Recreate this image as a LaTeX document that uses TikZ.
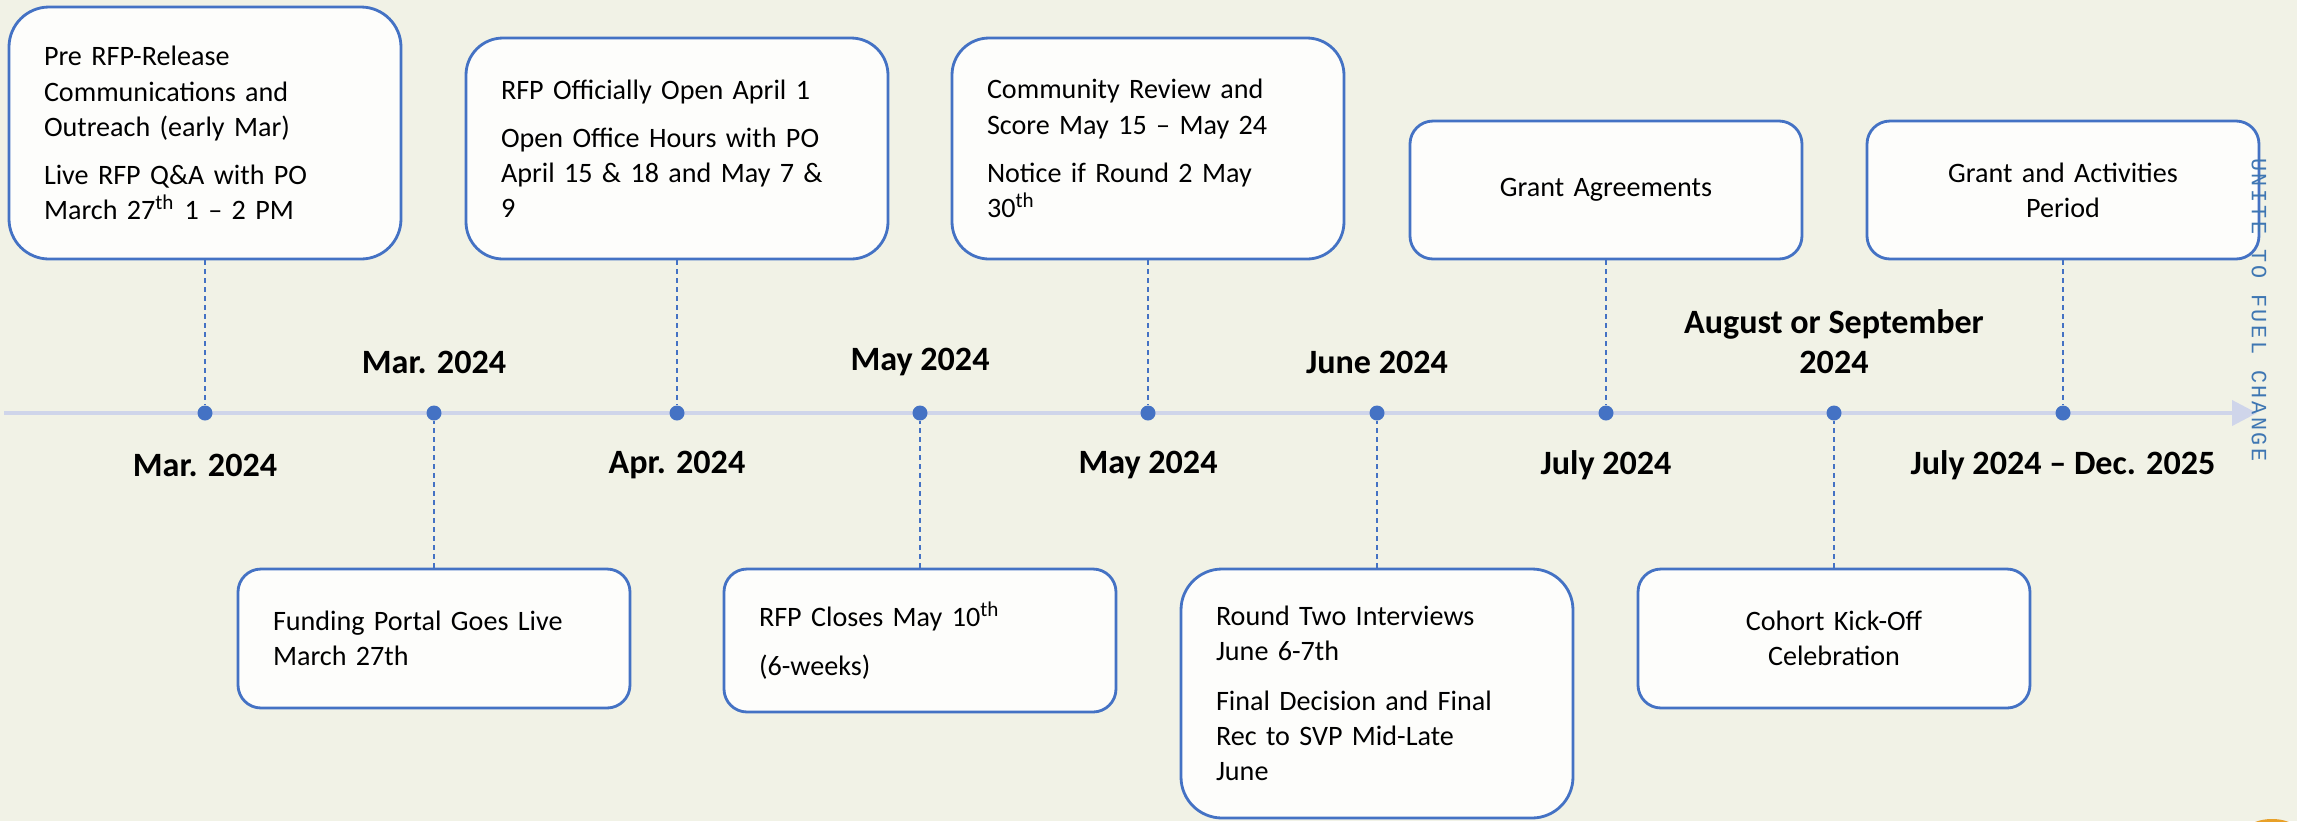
\documentclass[tikz,border=0pt]{standalone}
\usepackage{fontspec}
\setmainfont{Carlito}
\newfontfamily\tagfont[LetterSpace=12]{Liberation Mono}
\usepackage{tikz}
\usetikzlibrary{calc, backgrounds, positioning, arrows.meta}

\definecolor{paper}{RGB}{241,242,230}
\definecolor{boxblue}{RGB}{68,114,196}
\definecolor{boxfill}{RGB}{253,253,251}
\definecolor{axisline}{RGB}{207,213,234}
\definecolor{tagblue}{RGB}{62,118,178}
\definecolor{logo}{RGB}{232,160,40}

\tikzset{
	evbox/.style={draw=boxblue, fill=boxfill, line width=0.8pt, inner xsep=3.5mm, inner ysep=0pt, align=left, font=\fontsize{8}{10}\selectfont},
	evdot/.style={circle, fill=boxblue, inner sep=0pt, minimum size=1.5mm},
	evlink/.style={draw=boxblue, line width=0.35pt, dash pattern=on 0.5mm off 0.4mm},
	evdate/.style={font=\fontsize{9.7}{11.4}\selectfont\bfseries, align=center},
}

\begin{document}
\begin{tikzpicture}[x=0.1mm, y=-0.1mm]
		\fill[paper] (0,0) rectangle (2297,821);
		\useasboundingbox (0,0) rectangle (2297,821);
		
		\coordinate (start) at (4,413);
		\coordinate (end) at (2257,413);
		\draw[axisline, line width=0.4mm, -{Triangle[length=2.5mm, width=2.5mm]}] (start) -- (end);
		
		\foreach \x [count=\i] in {205,434,677,920,1148,1377,1606,1834,2063}
			\node[evdot] (d\i) at (\x,413) {};
		
		\node[evbox, text width=32.2mm, minimum height=25.2mm, rounded corners=4mm] (pre) at (205,133) {Pre RFP-Release\\Communications and\\Outreach (early Mar)\\[1.3mm]Live RFP Q\&A with PO\\March 27\textsuperscript{th} 1 -- 2 PM};
		\node[evbox, text width=35.2mm, minimum height=22.1mm, rounded corners=3.7mm] (open) at (677,148.5) {RFP Officially Open April 1\\[1.3mm]Open Office Hours with PO\\April 15 \& 18 and May 7 \&\\9};
		\node[evbox, text width=32.2mm, minimum height=22.1mm, rounded corners=3.7mm] (review) at (1148,148.5) {Community Review and\\Score May 15 -- May 24\\[1.3mm]Notice if Round 2 May\\30\textsuperscript{th}};
		\node[evbox, text width=32.2mm, minimum height=13.8mm, rounded corners=2.3mm, align=center] (agree) at (1606,190) {Grant Agreements};
		\node[evbox, text width=32.2mm, minimum height=13.8mm, rounded corners=2.3mm, align=center] (period) at (2063,190) {Grant and Activities\\Period};
		
		\node[evbox, text width=32.2mm, minimum height=13.9mm, rounded corners=2.3mm] (portal) at (434,638.5) {Funding Portal Goes Live\\March 27th};
		\node[evbox, text width=32.2mm, minimum height=14.3mm, rounded corners=2.3mm] (closes) at (920,640.5) {RFP Closes May 10\textsuperscript{th}\\[1.4mm](6-weeks)};
		\node[evbox, text width=32.2mm, minimum height=24.9mm, rounded corners=4.1mm] (interview) at (1377,693.5) {Round Two Interviews\\June 6-7th\\[1.5mm]Final Decision and Final\\Rec to SVP Mid-Late\\June};
		\node[evbox, text width=32.2mm, minimum height=13.9mm, rounded corners=2.3mm, align=center] (kickoff) at (1834,638.5) {Cohort Kick-Off\\Celebration};
		
		\draw[evlink] (pre) -- (d1);
		\draw[evlink] (portal) -- (d2);
		\draw[evlink] (open) -- (d3);
		\draw[evlink] (closes) -- (d4);
		\draw[evlink] (review) -- (d5);
		\draw[evlink] (interview) -- (d6);
		\draw[evlink] (agree) -- (d7);
		\draw[evlink] (kickoff) -- (d8);
		\draw[evlink] (period) -- (d9);
		
		\node[evdate] (l1) at (205,465) {Mar. 2024};
		\node[evdate] (l2) at (434,362) {Mar. 2024};
		\node[evdate] (l3) at (677,465) {Apr. 2024};
		\node[evdate] (l4) at (920,362) {May 2024};
		\node[evdate] (l5) at (1148,465) {May 2024};
		\node[evdate] (l6) at (1377,362) {June 2024};
		\node[evdate] (l7) at (1606,465) {July 2024};
		\node[evdate] (l8) at (1834,342) {August or September\\2024};
		\node[evdate] (l9) at (2063,465) {July 2024 -- Dec. 2025};
		
		\node[rotate=-90, text=tagblue, font={\tagfont\fontsize{6.2}{7}\selectfont}] (tag) at (2259,310) {UNITE TO FUEL CHANGE};
		
		\begin{scope}
			\clip (0,0) rectangle (2297,821);
			\fill[logo] (2272,836) ellipse (3mm and 1.7mm);
		\end{scope}
	\end{tikzpicture}
\end{document}
